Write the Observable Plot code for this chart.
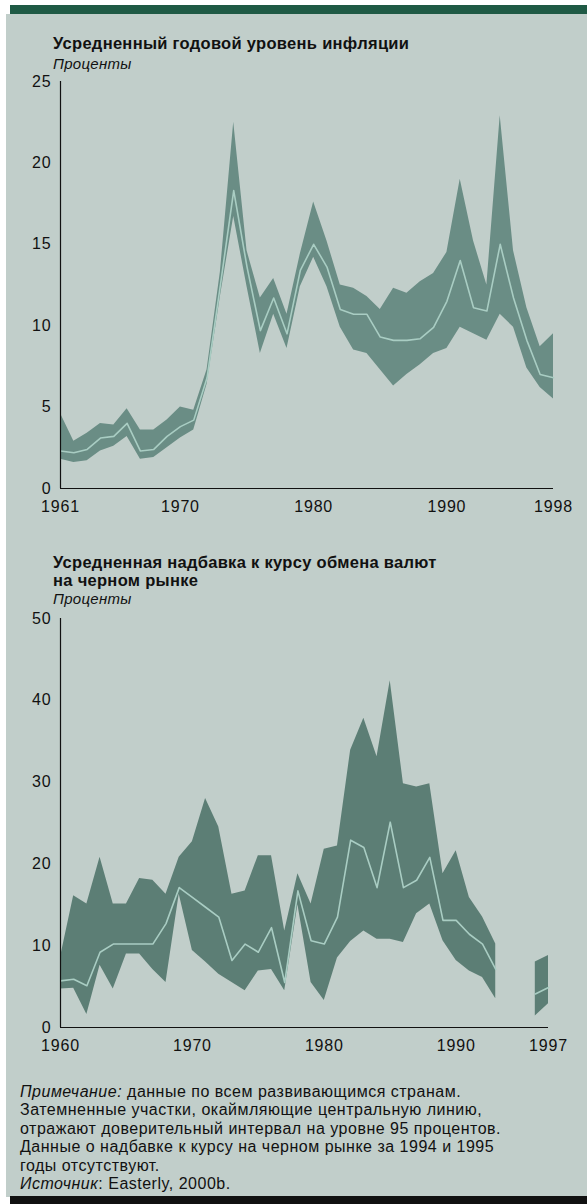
<!DOCTYPE html>
<html><head><meta charset="utf-8">
<script src="https://cdn.jsdelivr.net/npm/d3@7"></script>
<script src="https://cdn.jsdelivr.net/npm/@observablehq/plot@0.6"></script>
<style>
html,body{margin:0;padding:0;background:#fff;}
body{width:587px;height:1204px;position:relative;overflow:hidden;font-family:"Liberation Sans",Arial,Helvetica,sans-serif;color:#111;}
.panel{position:absolute;left:6px;top:14px;width:581px;height:1183px;background:#c1ceca;}
.topbar{position:absolute;left:10px;top:5px;width:577px;height:9px;background:#1f5a45;}
.botbar{position:absolute;left:10px;top:1196px;width:577px;height:8px;background:#111;}
.title{position:absolute;left:53px;font-weight:bold;font-size:16.5px;letter-spacing:0.3px;line-height:18px;margin:0;white-space:nowrap;}
.sub{position:absolute;left:53px;font-style:italic;font-size:15px;letter-spacing:0.3px;line-height:18px;}
.chart{position:absolute;left:0;}
.note{position:absolute;left:20px;top:1083px;font-size:16px;letter-spacing:0.5px;line-height:18.4px;width:567px;white-space:nowrap;}
</style></head>
<body>
<div class="panel"></div>
<div class="topbar"></div>
<div class="title" style="top:34px">Усредненный годовой уровень инфляции</div>
<div class="sub" style="top:55px">Проценты</div>
<div class="chart" id="c1" style="top:70px"></div>
<div class="title" style="top:553px">Усредненная надбавка к курсу обмена валют<br>на черном рынке</div>
<div class="sub" style="top:590px">Проценты</div>
<div class="chart" id="c2" style="top:600px"></div>
<div class="note"><i>Примечание:</i> данные по всем развивающимся странам.<br>Затемненные участки, окаймляющие центральную линию,<br>отражают доверительный интервал на уровне 95 процентов.<br>Данные о надбавке к курсу на черном рынке за 1994 и 1995<br>годы отсутствуют.<br><i>Источник</i>: Easterly, 2000b.</div>
<div class="botbar"></div>
<script>
// ---- Inflation (top chart) ----
const infYears = [1961,1962,1963,1964,1965,1966,1967,1968,1969,1970,1971,1972,1973,1974,1975,1976,1977,1978,1979,1980,1981,1982,1983,1984,1985,1986,1987,1988,1989,1990,1991,1992,1993,1994,1995,1996,1997,1998];
const infMean = [2.3,2.2,2.4,3.1,3.2,4.0,2.3,2.4,3.2,3.8,4.2,6.8,12.5,18.3,13.6,9.7,11.7,9.5,13.4,15.0,13.6,11.0,10.7,10.7,9.3,9.1,9.1,9.2,9.9,11.5,14.0,11.1,10.9,15.0,11.7,9.1,7.0,6.8];
const infHi   = [4.6,2.9,3.4,4.0,3.9,4.9,3.6,3.6,4.2,5.0,4.8,7.3,13.3,22.5,14.6,11.7,12.9,10.7,14.4,17.6,15.2,12.5,12.3,11.8,11.0,12.3,12.0,12.7,13.2,14.5,19.0,15.2,12.5,22.9,14.6,11.1,8.7,9.5];
const infLo   = [1.8,1.6,1.7,2.3,2.6,3.2,1.8,1.9,2.5,3.1,3.6,6.4,11.8,16.7,12.4,8.3,10.7,8.6,12.4,14.2,12.4,9.9,8.5,8.3,7.3,6.3,7.0,7.6,8.3,8.6,9.9,9.5,9.1,10.7,9.9,7.4,6.2,5.5];
const infXTicks = [1961,1970,1980,1990,1998];
const infYTicks = [0,5,10,15,20,25];

// ---- Black market premium (bottom chart) ----
const bmpYears = [1960,1961,1962,1963,1964,1965,1966,1967,1968,1969,1970,1971,1972,1973,1974,1975,1976,1977,1978,1979,1980,1981,1982,1983,1984,1985,1986,1987,1988,1989,1990,1991,1992,1993,1994,1995,1996,1997];
const bmpMean = [5.7,5.9,5.1,9.2,10.2,10.2,10.2,10.2,12.7,17.1,15.9,14.7,13.5,8.2,10.2,9.2,12.2,5.5,16.7,10.6,10.2,13.5,22.9,22.0,17.1,25.1,17.1,18.0,20.8,13.1,13.1,11.4,10.2,7.1,null,null,4.1,4.9];
const bmpHi   = [8.6,16.1,15.1,20.8,15.1,15.1,18.2,18.0,16.3,20.8,22.7,28.0,24.5,16.3,16.7,21.0,21.0,11.8,18.8,15.1,21.8,22.2,33.9,37.8,33.1,42.4,29.8,29.4,29.8,18.8,21.6,15.9,13.5,10.2,null,null,8.0,8.8];
const bmpLo   = [4.7,4.8,1.6,7.6,4.7,9.0,9.0,7.1,5.5,16.3,9.4,8.0,6.5,5.5,4.5,6.9,7.1,4.5,15.0,5.5,3.3,8.5,10.5,11.8,10.8,10.8,10.4,13.9,15.1,10.6,8.2,6.9,6.1,3.5,null,null,1.4,2.9];
const bmpXTicks = [1960,1970,1980,1990,1997];
const bmpYTicks = [0,10,20,30,40,50];

const bandTop = "#6a8d85", bandBot = "#5c7e75", meanCol = "#a9cdc3";

function chart(years, mean, hi, lo, xTicks, yTicks, yMax, opts) {
  const rows = years.map((year, i) => ({year, mean: mean[i], hi: hi[i], lo: lo[i]}));
  return Plot.plot({
    width: 587,
    height: opts.height,
    marginLeft: 60,
    marginRight: opts.marginRight,
    marginTop: opts.marginTop,
    marginBottom: opts.marginBottom,
    style: {background: "transparent", fontSize: "16px", letterSpacing: "0.8px", fontFamily: '"Liberation Sans", Arial, Helvetica, sans-serif', color: "#111", overflow: "visible"},
    x: {domain: [years[0], years[years.length - 1]], ticks: xTicks, tickFormat: d => String(d), tickSize: 0, tickPadding: 12, label: null},
    y: {domain: [0, yMax], ticks: yTicks, tickFormat: d => String(d), tickSize: 0, tickPadding: 9, label: null},
    marks: [
      Plot.areaY(rows, {x: "year", y1: "lo", y2: "hi", fill: opts.fill, curve: "linear"}),
      Plot.lineY(rows, {x: "year", y: "mean", stroke: meanCol, strokeWidth: 1.6, curve: "linear"}),
      Plot.ruleX([years[0]], {y1: 0, y2: yMax, stroke: "#111", strokeWidth: 1.2}),
      Plot.ruleY([0], {stroke: "#111", strokeWidth: 1.2})
    ]
  });
}

document.getElementById("c1").appendChild(
  chart(infYears, infMean, infHi, infLo, infXTicks, infYTicks, 25, {height: 450, marginTop: 11, marginBottom: 32, marginRight: 34, fill: bandTop}));
document.getElementById("c2").appendChild(
  chart(bmpYears, bmpMean, bmpHi, bmpLo, bmpXTicks, bmpYTicks, 50, {height: 459, marginTop: 18, marginBottom: 32, marginRight: 39, fill: bandBot}));
</script>
</body></html>
